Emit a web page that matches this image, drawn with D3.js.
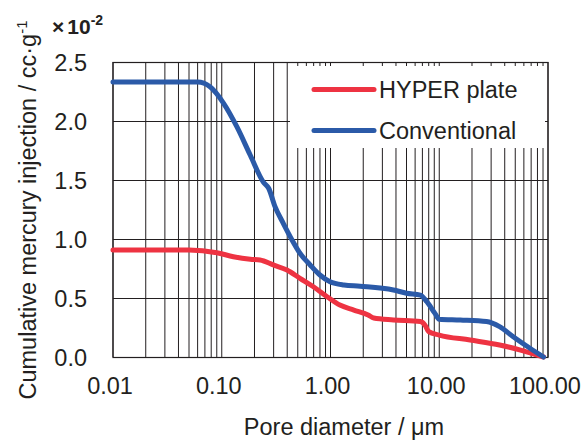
<!DOCTYPE html>
<html>
<head>
<meta charset="utf-8">
<script src="https://cdn.jsdelivr.net/npm/d3@7"></script>
<style>
  body { margin: 0; background: #fff; }
  svg text { font-family: "Liberation Sans", Arial, sans-serif; fill: #231f20; }
</style>
</head>
<body>
<svg id="chart" width="584" height="440"></svg>
<script>
// pore diameter (um) and cumulative intrusion (x10^-2 cc/g)
const conventionalDiam = [0.01, 0.06, 0.078, 0.104, 0.138, 0.183, 0.242, 0.27, 0.309, 0.368, 0.444, 0.524, 0.65, 0.80, 0.99, 1.33, 1.87, 3.79, 5.0, 6.7, 7.7, 9.13, 10.0, 15.6, 27.2, 35.9, 47.9, 68.3, 91];
const conventionalVal  = [2.33, 2.33, 2.29, 2.15, 1.95, 1.71, 1.48, 1.43, 1.274, 1.133, 0.99, 0.879, 0.78, 0.695, 0.638, 0.61, 0.60, 0.568, 0.54, 0.525, 0.468, 0.37, 0.32, 0.313, 0.30, 0.257, 0.172, 0.074, 0.0];

const hyperDiam = [0.01, 0.05, 0.09, 0.128, 0.183, 0.225, 0.298, 0.398, 0.524, 0.696, 0.93, 1.22, 1.64, 2.22, 2.5, 3.79, 6.7, 7.4, 8.0, 10, 19.2, 35.9, 55.9, 91];
const hyperVal  = [0.907, 0.907, 0.884, 0.85, 0.828, 0.822, 0.78, 0.737, 0.666, 0.595, 0.511, 0.44, 0.398, 0.356, 0.33, 0.314, 0.30, 0.27, 0.215, 0.186, 0.144, 0.102, 0.059, 0.0];

const seriesNames = ["HYPER plate", "Conventional"];
const seriesColors = ["#ee3342", "#2b5aa8"];

const xTickValues = [0.01, 0.1, 1, 10, 100];
const xTickLabels = ["0.01", "0.10", "1.00", "10.00", "100.00"];
const yTickValues = [0, 0.5, 1.0, 1.5, 2.0, 2.5];

const svg = d3.select("#chart");
const plotL = 113, plotR = 548, plotT = 62, plotB = 357;
const fontSize = "23.5px";

const x = d3.scaleLog().domain([0.01, 100]).range([plotL, plotR]);
const y = d3.scaleLinear().domain([0, 2.5]).range([plotB, plotT]);

//vertical grid (1..9 per decade)
const grid = svg.append("g");
grid.selectAll("line.v")
  .data(x.ticks())
  .enter().append("line")
  .attr("x1", d => x(d)).attr("x2", d => x(d))
  .attr("y1", plotT).attr("y2", plotB)
  .attr("stroke", "#231f20")
  .attr("stroke-width", 1);

//horizontal grid
grid.selectAll("line.h")
  .data(yTickValues)
  .enter().append("line")
  .attr("x1", plotL).attr("x2", plotR)
  .attr("y1", d => Math.round(y(d)) + 0.5).attr("y2", d => Math.round(y(d)) + 0.5)
  .attr("stroke", "#231f20")
  .attr("stroke-width", 1);

//plot frame
svg.append("rect")
  .attr("x", plotL).attr("y", plotT + 0.5)
  .attr("width", plotR - plotL).attr("height", plotB - plotT)
  .attr("fill", "none")
  .attr("stroke", "#231f20")
  .attr("stroke-width", 1.2);

//curves
const line = d3.line()
  .x(d => x(d[0]))
  .y(d => y(d[1]))
  .curve(d3.curveMonotoneX);

const series = [
  d3.zip(hyperDiam, hyperVal),
  d3.zip(conventionalDiam, conventionalVal)
];

svg.selectAll("path.series")
  .data(series)
  .enter().append("path")
  .attr("d", line)
  .attr("fill", "none")
  .attr("stroke", (d, i) => seriesColors[i])
  .attr("stroke-width", 5)
  .attr("stroke-linejoin", "round")
  .attr("stroke-linecap", "round");

//legend
svg.append("rect")
  .attr("x", 290).attr("y", 66)
  .attr("width", 255).attr("height", 82)
  .attr("fill", "#fff");

const legend = svg.selectAll("g.legend")
  .data(seriesNames)
  .enter().append("g")
  .attr("transform", (d, i) => `translate(314,${89.5 + i * 41})`);

legend.append("line")
  .attr("x1", 0).attr("x2", 60)
  .attr("stroke", (d, i) => seriesColors[i])
  .attr("stroke-width", 5)
  .attr("stroke-linecap", "round");

legend.append("text")
  .attr("x", 65).attr("dy", "0.36em")
  .style("font-size", fontSize)
  .text(d => d);

//tick labels
svg.selectAll("text.xt")
  .data(xTickValues)
  .enter().append("text")
  .attr("x", d => x(d) - 3)
  .attr("y", 394)
  .attr("text-anchor", "middle")
  .style("font-size", fontSize)
  .text((d, i) => xTickLabels[i]);

svg.selectAll("text.yt")
  .data(yTickValues)
  .enter().append("text")
  .attr("x", 87)
  .attr("y", d => y(d) + 9)
  .attr("text-anchor", "end")
  .style("font-size", fontSize)
  .text(d => d.toFixed(1));

//axis titles
svg.append("text")
  .attr("x", 344).attr("y", 435)
  .attr("text-anchor", "middle")
  .style("font-size", fontSize)
  .text("Pore diameter / μm");

const yTitle = svg.append("text")
  .attr("transform", "translate(36,210) rotate(-90)")
  .attr("text-anchor", "middle")
  .style("font-size", fontSize);
yTitle.append("tspan").text("Cumulative mercury injection / cc·g");
yTitle.append("tspan").attr("dy", -9).style("font-size", "15px").text("-1");

const mult = svg.append("text")
  .attr("x", 52).attr("y", 34)
  .style("font-size", "21px")
  .style("font-weight", "bold");
mult.append("tspan").text("×");
mult.append("tspan").attr("dx", 3).text("10");
mult.append("tspan").attr("dy", -9).style("font-size", "14px").text("-2");
</script>
</body>
</html>
